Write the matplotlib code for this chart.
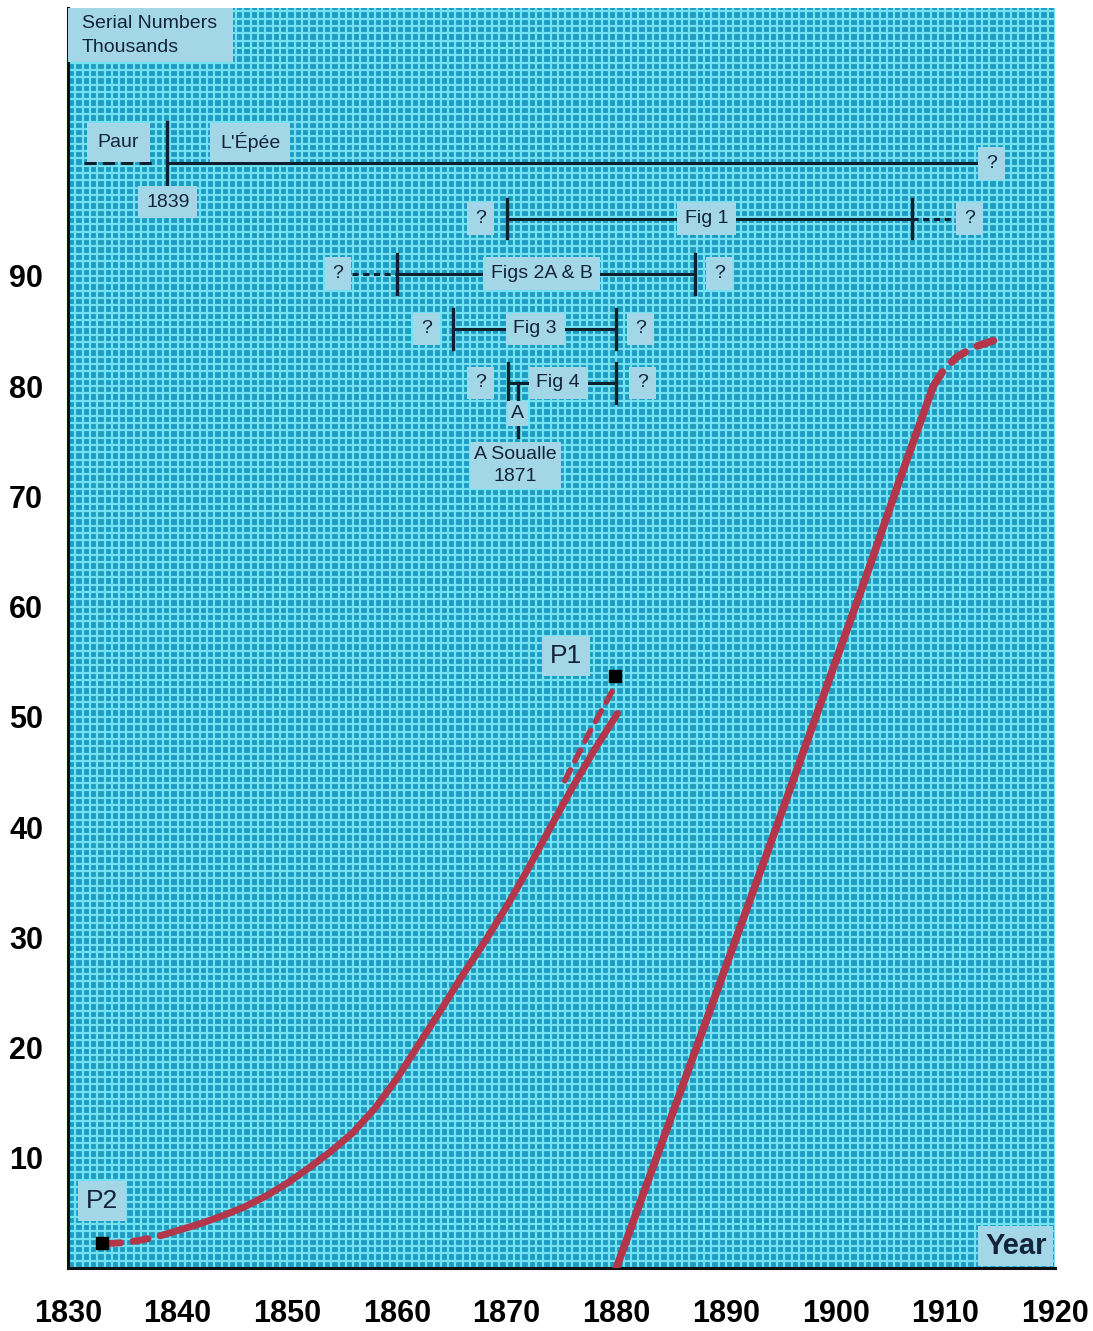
import numpy as np
import matplotlib.pyplot as plt
from matplotlib.patches import Rectangle

# ---- data ----
years_major = [1830, 1840, 1850, 1860, 1870, 1880, 1890, 1900, 1910, 1920]
serial_ticks = [10, 20, 30, 40, 50, 60, 70, 80, 90]

# P2 -> early curve (thousands vs year)
p2_dash_years = [1833.4, 1835.0, 1836.5, 1838.0, 1840.0]
p2_dash_vals = [2.2, 2.3, 2.5, 2.8, 3.4]
p2_years = [1840, 1842, 1844, 1846, 1848, 1850, 1852, 1854, 1856, 1858,
            1860, 1862, 1864, 1866, 1868, 1870, 1872, 1874, 1876, 1878, 1880.1]
p2_vals = [3.4, 4.0, 4.7, 5.5, 6.5, 7.7, 9.1, 10.6, 12.3, 14.5,
           17.2, 20.3, 23.4, 26.6, 29.6, 32.8, 36.3, 40.0, 43.6, 47.0, 50.3]
p1_dash_years = [1875.3, 1877.5, 1880.0]
p1_dash_vals = [44.2, 48.5, 53.0]

# later straight run
late_years = [1880.0, 1887.6, 1894.6, 1899.7, 1902.8, 1905.8, 1908.9]
late_vals = [0.0, 20.8, 40.0, 54.2, 62.8, 71.4, 80.0]
late_dash_years = [1908.9, 1909.8, 1911.0, 1912.5, 1914.0, 1915.2]
late_dash_vals = [80.0, 81.4, 82.6, 83.5, 84.0, 84.4]

p1_point = (1879.9, 53.7)
p2_point = (1833.1, 2.3)

# timeline bars: (label, y, start, end, label_x)
bars = [
    ("Fig 1", 95.2, 1870.0, 1907.0, 1888.2),
    ("Figs 2A & B", 90.2, 1860.0, 1887.2, 1873.2),
    ("Fig 3", 85.2, 1865.1, 1880.0, 1872.6),
    ("Fig 4", 80.3, 1870.1, 1880.0, 1874.7),
]
question_left = [1867.6, 1854.6, 1862.7, 1867.6]
question_right = [1912.2, 1889.4, 1882.2, 1882.4]

BG = '#1e9bc2'
GRID = '#72e1f1'
BOX = '#a3d6e6'
INK = '#13243a'
RED = '#b3364a'
BAR = '#0e2131'

fig = plt.figure(figsize=(10.93, 13.31), dpi=100)
ax = fig.add_axes([68 / 1093, 63 / 1331, 987 / 1093, 1260 / 1331])
ax.set_facecolor(BG)
ax.set_xlim(1830, 1920)
ax.set_ylim(0, 114.3)

ax.set_xticks(years_major)
ax.set_yticks(serial_ticks)
ax.set_xticks(np.linspace(1830, 1920, 136), minor=True)
ax.set_yticks(np.linspace(0, 114, 172), minor=True)
ax.grid(which='both', color=GRID, linewidth=1.6)
ax.set_axisbelow(True)
ax.tick_params(which='both', length=0)
ax.tick_params(axis='x', pad=22)
ax.tick_params(axis='y', pad=18)
tick_font = dict(family=['Liberation Sans Narrow', 'Liberation Sans'],
                 weight='bold', size=22)
for lab in ax.get_xticklabels() + ax.get_yticklabels():
    lab.set(**tick_font)

for s in ['top', 'right']:
    ax.spines[s].set_visible(False)
for s in ['left', 'bottom']:
    ax.spines[s].set_linewidth(2.2)
    ax.spines[s].set_color('#111111')

box = dict(boxstyle='square,pad=0.4', fc=BOX, ec='none')
txt = dict(family='Liberation Sans', color=INK, zorder=6)

# red curves
ax.plot(p2_dash_years, p2_dash_vals, color=RED, lw=5, ls=(0, (2.2, 1.8)),
        solid_capstyle='round', dash_capstyle='round', zorder=3)
ax.plot(p2_years, p2_vals, color=RED, lw=5, solid_capstyle='round',
        solid_joinstyle='round', zorder=3)
ax.plot(p1_dash_years, p1_dash_vals, color=RED, lw=4, ls=(0, (2.2, 1.8)),
        dash_capstyle='round', zorder=3)
ax.plot(late_years, late_vals, color=RED, lw=5.5, solid_capstyle='round',
        solid_joinstyle='round', zorder=3)
ax.plot(late_dash_years, late_dash_vals, color=RED, lw=5.5, ls=(0, (2.2, 1.8)),
        dash_capstyle='round', zorder=3)
ax.plot(*p1_point, marker='s', color='black', ms=8, zorder=4)
ax.plot(*p2_point, marker='s', color='black', ms=8, zorder=4)
ax.text(1875.4, 55.5, "P1", fontsize=19, ha='center', va='center',
        bbox=dict(boxstyle='square,pad=0.3', fc=BOX, ec='none'), **txt)
ax.text(1833.1, 6.1, "P2", fontsize=19, ha='center', va='center',
        bbox=dict(boxstyle='square,pad=0.3', fc=BOX, ec='none'), **txt)

# Paur / L'Epee row
ax.plot([1831.5, 1838.0], [100.2, 100.2], color=BAR, lw=2.2, ls=(0, (4, 2)), zorder=4)
ax.plot([1839.0, 1913.6], [100.2, 100.2], color=BAR, lw=2.2, zorder=4)
ax.plot([1839.0, 1839.0], [98.1, 104.0], color=BAR, lw=2.4, zorder=4)
ax.text(1834.6, 102.1, "Paur", fontsize=14, ha='center', va='center',
        bbox=dict(boxstyle='square,pad=0.55', fc=BOX, ec='none'), **txt)
ax.text(1846.6, 102.1, "L'Épée", fontsize=14, ha='center', va='center',
        bbox=dict(boxstyle='square,pad=0.5', fc=BOX, ec='none'), **txt)
ax.text(1839.1, 96.7, "1839", fontsize=14, ha='center', va='center', bbox=box, **txt)
ax.text(1914.2, 100.2, "?", fontsize=14, ha='center', va='center', bbox=box, **txt)

# figure bars
for i, (name, y, x0, x1, lx) in enumerate(bars):
    ax.plot([x0, x1], [y, y], color=BAR, lw=2.2, zorder=4)
    ax.plot([x0, x0], [y - 1.8, y + 1.8], color=BAR, lw=2.4, zorder=4)
    ax.plot([x1, x1], [y - 1.8, y + 1.8], color=BAR, lw=2.4, zorder=4)
    ax.text(lx, y, name, fontsize=14, ha='center', va='center', bbox=box, **txt)
    ax.text(question_left[i], y, "?", fontsize=14, ha='center', va='center', bbox=box, **txt)
    ax.text(question_right[i], y, "?", fontsize=14, ha='center', va='center', bbox=box, **txt)

# dashed extensions
ax.plot([1907.0, 1910.6], [95.2, 95.2], color=BAR, lw=2.2, ls=(0, (2, 1.5)), zorder=4)
ax.plot([1855.9, 1860.0], [90.2, 90.2], color=BAR, lw=2.2, ls=(0, (2, 1.5)), zorder=4)

# A Soualle marker
ax.plot([1871.0, 1871.0], [80.3, 75.4], color=BAR, lw=2.4, zorder=4)
ax.text(1871.0, 77.5, "A", fontsize=14, ha='center', va='center',
        bbox=dict(boxstyle='square,pad=0.2', fc=BOX, ec='none'), **txt)
ax.text(1870.8, 72.8, "A Soualle\n1871", fontsize=14, ha='center', va='center',
        linespacing=1.45, bbox=dict(boxstyle='square,pad=0.2', fc=BOX, ec='none'), **txt)

# corner labels
ax.add_patch(Rectangle((0, 1 - 54 / 1260), 165 / 987, 54 / 1260, transform=ax.transAxes,
                       fc=BOX, ec='none', zorder=5))
ax.text(14 / 987, 1 - 15 / 1260, "Serial Numbers", transform=ax.transAxes,
        fontsize=14, ha='left', va='center', **txt)
ax.text(14 / 987, 1 - 39 / 1260, "Thousands", transform=ax.transAxes,
        fontsize=14, ha='left', va='center', **txt)
ax.add_patch(Rectangle((910 / 987, 2 / 1260), 75 / 987, 40 / 1260, transform=ax.transAxes,
                       fc=BOX, ec='none', zorder=5))
ax.text(948 / 987, 22 / 1260, "Year", transform=ax.transAxes, fontsize=21,
        fontweight='bold', ha='center', va='center', **txt)

fig.savefig("out.png", dpi=100)
